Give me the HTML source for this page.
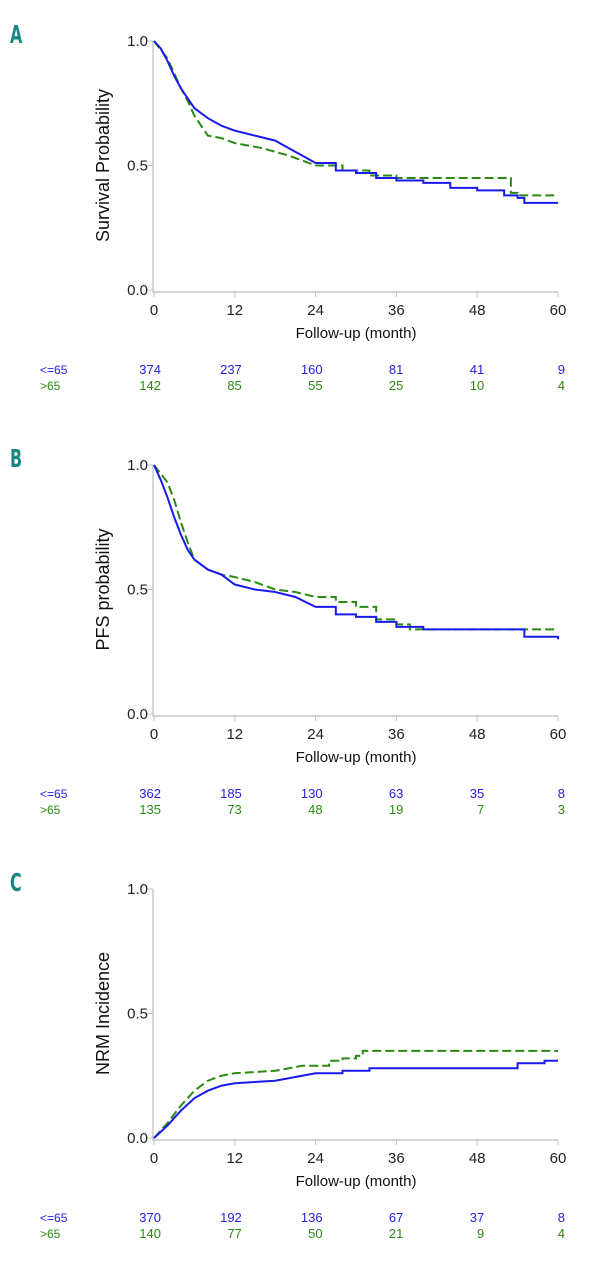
<!DOCTYPE html>
<html><head><meta charset="utf-8">
<style>
html,body{margin:0;padding:0;background:#fff;}
svg{display:block;font-family:"Liberation Sans",sans-serif;}
</style></head>
<body>
<svg id="chart" width="601" height="1280"></svg>
<script>
const ticksX=[0,12,24,36,48,60];
const ticksY=[0,0.5,1];
const panelLetters=["A","B","C"];
const yTitles=["Survival Probability","PFS probability","NRM Incidence"];
const xTitle="Follow-up (month)";
const groupLabels=["<=65",">65"];
const riskA1=[374,237,160,81,41,9], riskA2=[142,85,55,25,10,4];
const riskB1=[362,185,130,63,35,8], riskB2=[135,73,48,19,7,3];
const riskC1=[370,192,136,67,37,8], riskC2=[140,77,50,21,9,4];
const aBlueT=[0,1,2,3,4,5,6,8,10,12,15,18,20,22,24,27,30,33,36,40,44,48,52,54,55,60];
const aBlueS=[1,0.97,0.92,0.86,0.81,0.77,0.73,0.69,0.66,0.64,0.62,0.60,0.57,0.54,0.51,0.48,0.47,0.45,0.44,0.43,0.41,0.40,0.38,0.37,0.35,0.35];
const aGreenT=[0,2,3,4,5,6,7,8,10,12,16,20,24,28,32,36,53,54,60];
const aGreenS=[1,0.93,0.87,0.81,0.76,0.70,0.66,0.62,0.61,0.59,0.57,0.54,0.50,0.48,0.46,0.45,0.39,0.38,0.38];
const bBlueT=[0,1,2,3,4,5,6,8,10,12,15,18,21,24,27,30,33,36,40,52,55,60];
const bBlueS=[1,0.94,0.87,0.79,0.72,0.66,0.62,0.58,0.56,0.52,0.50,0.49,0.47,0.43,0.40,0.39,0.37,0.35,0.34,0.34,0.31,0.30];
const bGreenT=[0,2,3,4,5,6,8,10,12,15,18,21,24,27,30,33,36,38,60];
const bGreenS=[1,0.93,0.86,0.77,0.69,0.62,0.58,0.56,0.55,0.53,0.50,0.49,0.47,0.45,0.43,0.38,0.36,0.34,0.34];
const cBlueT=[0,2,4,6,8,10,12,18,22,24,28,32,54,58,60];
const cBlueS=[0,0.05,0.11,0.16,0.19,0.21,0.22,0.23,0.25,0.26,0.27,0.28,0.30,0.31,0.31];
const cGreenT=[0,2,4,6,8,10,12,18,22,26,28,30,31,60];
const cGreenS=[0,0.06,0.13,0.19,0.23,0.25,0.26,0.27,0.29,0.31,0.32,0.33,0.35,0.35];

const NS="http://www.w3.org/2000/svg";
const svg=document.getElementById('chart');
function mk(tag,attrs,parent){const e=document.createElementNS(NS,tag);for(const k in attrs)e.setAttribute(k,attrs[k]);(parent||svg).appendChild(e);return e;}
const X0=154,X1=558;
const xs=t=>X0+(X1-X0)*t/60;
const panels=[
 {blue:[aBlueT,aBlueS],green:[aGreenT,aGreenS],r1:riskA1,r2:riskA2},
 {blue:[bBlueT,bBlueS],green:[bGreenT,bGreenS],r1:riskB1,r2:riskB2},
 {blue:[cBlueT,cBlueS],green:[cGreenT,cGreenS],r1:riskC1,r2:riskC2}];
panels.forEach((p,i)=>{
  const off=i*424;
  const yTop=41+off,yBot=290+off;
  const ys=v=>yBot-(yBot-yTop)*v;
  const g=mk('g',{});
  
  
  const L=mk('text',{x:10,y:43+off,'font-size':22,'font-weight':'bold',fill:'#1a8585','font-family':'"DejaVu Sans Condensed","Liberation Sans Narrow",sans-serif',transform:`translate(10,${43+off}) scale(0.8,1.15) translate(-10,${-(43+off)})`},g);
  L.textContent=panelLetters[i];
  
  
  const ax=mk('path',{d:`M${X0-1},${yTop} V${yBot+2} H${X1}`,stroke:'#b8bec4','stroke-width':1.2,fill:'none'},g);
  
  
  ticksX.forEach(t=>{
    mk('line',{x1:xs(t),x2:xs(t),y1:yBot+2,y2:yBot+7,stroke:'#b8bec4'},g);
    const tx=mk('text',{x:xs(t),y:yBot+25,'font-size':15,'text-anchor':'middle',fill:'#222'},g);
    tx.textContent=t;
    
    
  });
  ticksY.forEach(v=>{
    mk('line',{x1:X0-6,x2:X0-1,y1:ys(v),y2:ys(v),stroke:'#b8bec4'},g);
    const ty=mk('text',{x:X0-6,y:ys(v)+5,'font-size':15,'text-anchor':'end',fill:'#222'},g);
    ty.textContent=v.toFixed(1);
    
    
  });
  const yt=mk('text',{x:0,y:0,'font-size':18,'text-anchor':'middle',fill:'#111',transform:`translate(109,${(yTop+yBot)/2}) rotate(-90)`},g);
  yt.textContent=yTitles[i];
  
  
  const xt=mk('text',{x:356,y:yBot+48,'font-size':15,'text-anchor':'middle',fill:'#111'},g);
  xt.textContent=xTitle;
  
  
  function path(T,S){let d=`M${xs(T[0])},${ys(S[0])}`;for(let k=1;k<T.length;k++){
    if(T[k]<=24) d+=` L${xs(T[k])},${ys(S[k])}`;
    else d+=` H${xs(T[k])} V${ys(S[k])}`;}return d;}
  const gl=mk('path',{d:path(p.green[0],p.green[1]),stroke:'#2a8a12','stroke-width':2,fill:'none','stroke-dasharray':'9,4'},g);
  
  
  const bl=mk('path',{d:path(p.blue[0],p.blue[1]),stroke:'#1a1aee','stroke-width':2,fill:'none'},g);
  
  
  [[p.r1,'#2222dd',369],[p.r2,'#2a8a12',385]].forEach((r,j)=>{
    const lb=mk('text',{x:40,y:r[2]+off+5,'font-size':12,fill:r[1]},g);
    lb.textContent=groupLabels[j];
    
    
    r[0].forEach((n,k)=>{
      const t=mk('text',{x:xs(ticksX[k])+7,y:r[2]+off+5,'font-size':13,'text-anchor':'end',fill:r[1]},g);
      t.textContent=n;
      
      
    });
  });
});
</script>
</body></html>
